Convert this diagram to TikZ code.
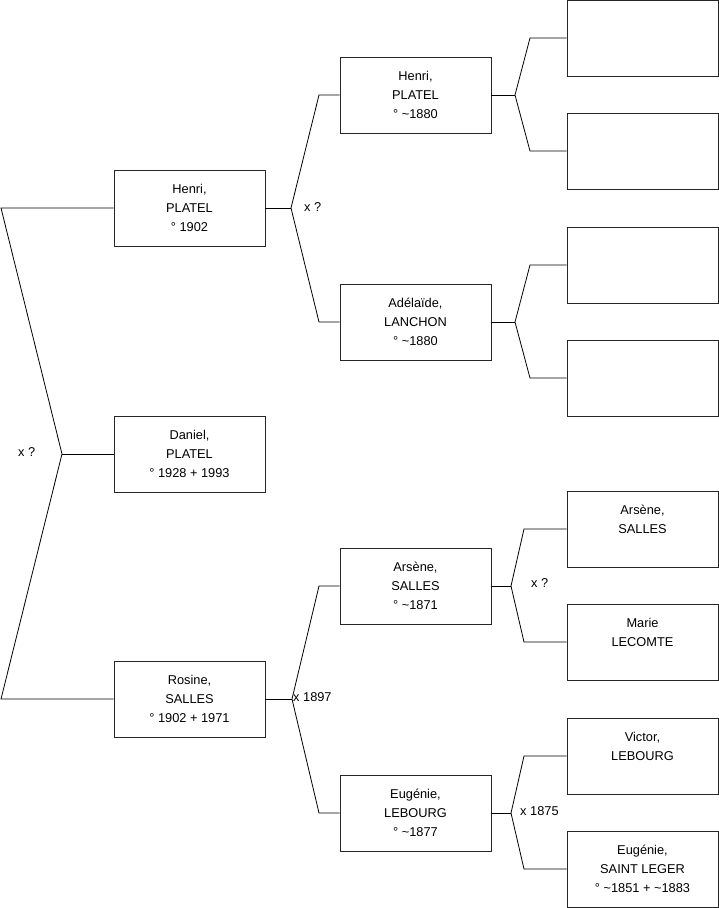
\documentclass[tikz,border=0pt]{standalone}
\usepackage{fontspec}
\setmainfont{Liberation Sans}
\usetikzlibrary{positioning}

\begin{document}
\begin{tikzpicture}[
  x=1pt, y=-1pt,
  font=\fontsize{12.8}{18.8}\selectfont,
  person/.style={draw=black!85, line width=0.8pt, fill=white, align=center,
                 minimum width=151pt, minimum height=76pt, inner sep=2pt},
  link/.style={draw=black, line width=0.8pt},
  union/.style={anchor=west, inner sep=0pt}
]
\useasboundingbox (0,0) rectangle (719,908);
% generation 1 and 2
\node[person] (daniel) at (189.5,454) {Daniel,\\PLATEL\\° 1928 + 1993};
\node[person] (henri) at (189.5,208) {Henri,\\PLATEL\\° 1902};
\node[person] (rosine) at (189.5,699) {Rosine,\\SALLES\\° 1902 + 1971};
% generation 3
\node[person] (henriP) at (415.5,95) {Henri,\\PLATEL\\° \textasciitilde1880};
\node[person] (adelaide) at (415.5,322) {Adélaïde,\\LANCHON\\° \textasciitilde1880};
\node[person] (arsene) at (415.5,586) {Arsène,\\SALLES\\° \textasciitilde1871};
\node[person] (eugenie) at (415.5,813) {Eugénie,\\LEBOURG\\° \textasciitilde1877};
% generation 4
\node[person] (ff) at (642.5,38) {};
\node[person] (fm) at (642.5,151) {};
\node[person] (mf) at (642.5,265) {};
\node[person] (mm) at (642.5,378) {};
\node[person] (arseneP) at (642.5,529) {Arsène,\\SALLES\\\mbox{}};
\node[person] (marie) at (642.5,642) {Marie\\LECOMTE\\\mbox{}};
\node[person] (victor) at (642.5,756) {Victor,\\LEBOURG\\\mbox{}};
\node[person] (eugenieS) at (642.5,869) {Eugénie,\\SAINT LEGER\\° \textasciitilde1851 + \textasciitilde1883};

% junctions
\coordinate (j0) at (62,454);
\coordinate (j0u) at (1,208);
\coordinate (j0d) at (1,699);
\coordinate (j1) at (291,208);
\coordinate (j1u) at (319,95);
\coordinate (j1d) at (319,322);
\coordinate (j2) at (292,699);
\coordinate (j2u) at (319,586);
\coordinate (j2d) at (319,813);
\coordinate (j3) at (515,95);
\coordinate (j3u) at (530,38);
\coordinate (j3d) at (530,151);
\coordinate (j4) at (515,322);
\coordinate (j4u) at (530,265);
\coordinate (j4d) at (530,378);
\coordinate (j5) at (511,586);
\coordinate (j5u) at (524,529);
\coordinate (j5d) at (524,642);
\coordinate (j6) at (511,813);
\coordinate (j6u) at (524,756);
\coordinate (j6d) at (524,869);

\draw[link] (henri.west) -- (j0u) -- (j0) -- (j0d) -- (rosine.west);
\draw[link] (j0) -- (daniel.west);
\draw[link] (henri.east) -- (j1);
\draw[link] (henriP.west) -- (j1u) -- (j1) -- (j1d) -- (adelaide.west);
\draw[link] (rosine.east) -- (j2);
\draw[link] (arsene.west) -- (j2u) -- (j2) -- (j2d) -- (eugenie.west);
\draw[link] (henriP.east) -- (j3);
\draw[link] (ff.west) -- (j3u) -- (j3) -- (j3d) -- (fm.west);
\draw[link] (adelaide.east) -- (j4);
\draw[link] (mf.west) -- (j4u) -- (j4) -- (j4d) -- (mm.west);
\draw[link] (arsene.east) -- (j5);
\draw[link] (arseneP.west) -- (j5u) -- (j5) -- (j5d) -- (marie.west);
\draw[link] (eugenie.east) -- (j6);
\draw[link] (victor.west) -- (j6u) -- (j6) -- (j6d) -- (eugenieS.west);

% marriages
\node[union] (m0) at (18,452) {x ?};
\node[union] (m1) at (304,207) {x ?};
\node[union] (m2) at (293,697) {x 1897};
\node[union] (m5) at (531,583) {x ?};
\node[union] (m6) at (520,811) {x 1875};
\end{tikzpicture}
\end{document}
